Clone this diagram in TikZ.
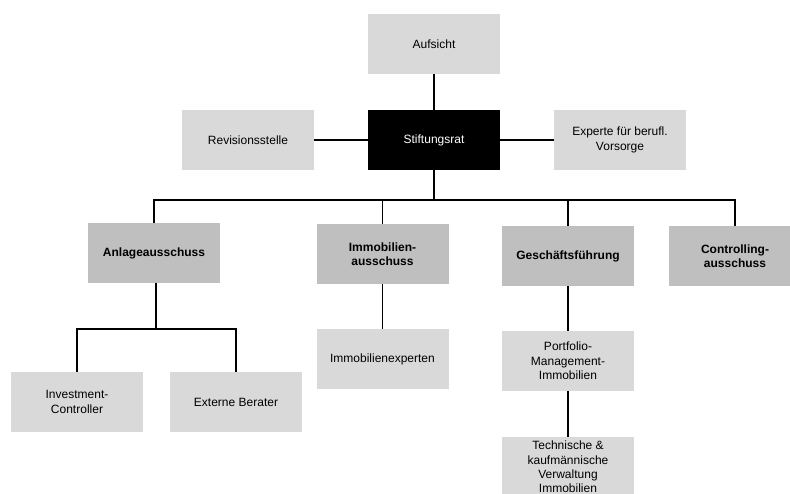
\documentclass[tikz,border=0pt]{standalone}
\usepackage{fontspec}
\setmainfont{Liberation Sans}
\begin{document}
\begin{tikzpicture}[x=1pt, y=-1pt,
  every node/.style={font=\fontsize{12}{14.3}\selectfont, align=center, minimum width=132pt, minimum height=60pt, inner sep=2pt},
  lbox/.style={fill=black!15},
  mbox/.style={fill=black!25, font=\fontsize{12}{14.3}\selectfont\bfseries},
  dbox/.style={fill=black, text=white},
  conn/.style={draw=black, line width=1.9pt}]
\useasboundingbox (0,0) rectangle (790,493);
\clip (0,0) rectangle (790,493);
\node[lbox] (aufsicht) at (434,44) {Aufsicht};
\node[dbox] (rat) at (434,140) {Stiftungsrat};
\node[lbox] (revision) at (248,140) {Revisionsstelle};
\node[lbox] (experte) at (620,140) {Experte für berufl.\\Vorsorge};
\foreach \n/\x/\y/\txt in {anlage/154/253/Anlageausschuss,immo/382.5/254/{Immobilien-\\ausschuss},gf/568/256/Geschäftsführung,contr/735/256/{Controlling-\\ausschuss}} {
  \node[mbox] (\n) at (\x,\y) {\txt};
}
\foreach \n/\x/\y/\txt in {invest/77/402/{Investment-\\Controller},extern/236/402/Externe Berater,immoexp/382.5/359/Immobilienexperten,portfolio/568/361/{Portfolio-\\Management-\\Immobilien},verwaltung/568/467/{Technische \&\\kaufmännische\\Verwaltung\\Immobilien}} {
  \node[lbox] (\n) at (\x,\y) {\txt};
}
\coordinate (bus) at (434,200);
\coordinate (sub) at (156,329);
\draw[conn] (aufsicht) -- (rat);
\draw[conn] (revision) -- (rat);
\draw[conn] (rat) -- (experte);
\draw[conn] (rat) -- (bus);
\draw[conn] (anlage.north) |- (bus) -| (contr.north);
\draw[conn] (immo.north) -- (immo.north |- bus);
\draw[conn] (gf.north) -- (gf.north |- bus);
\draw[conn] (anlage.south -| sub) -- (sub);
\draw[conn] (invest.north) |- (sub) -| (extern.north);
\draw[conn] (immo) -- (immoexp);
\draw[conn] (gf) -- (portfolio);
\draw[conn] (portfolio) -- (verwaltung);
\end{tikzpicture}
\end{document}
